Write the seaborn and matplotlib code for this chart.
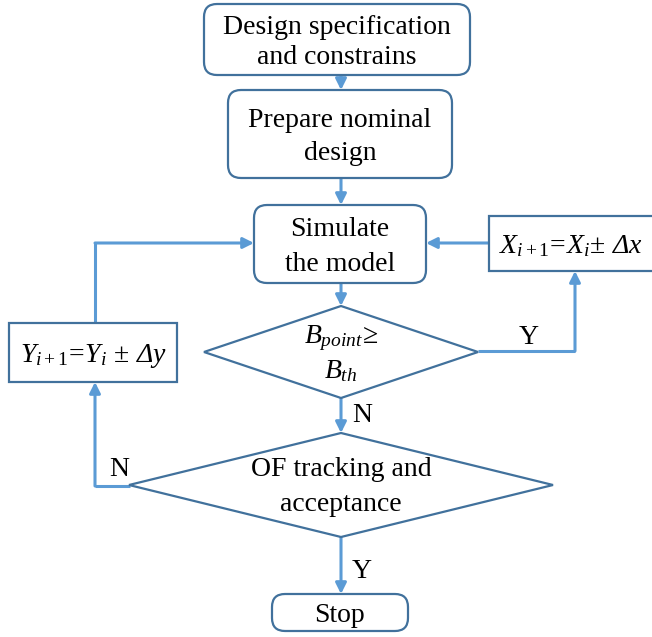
"""
Flowchart: nominal design -> simulate -> threshold checks -> stop
"""

import seaborn as sns
import matplotlib.pyplot as plt
from matplotlib.patches import FancyBboxPatch, Polygon, FancyArrowPatch

# -------------------------
# Content
# -------------------------
node_names = ["spec", "nominal", "simulate", "xstep", "ystep", "check_b", "check_of", "stop"]
node_texts = [
    "Design specification\nand constrains",
    "Prepare nominal\ndesign",
    "Simulate\nthe model",
    r"$X_{i+1}\!=\!X_i\!\pm\,\mathsf{Δ} x$",
    r"$Y_{i+1}\!=\!Y_i\,\pm\,\mathsf{Δ} y$",
    "$B_{point}\\!\\geq$\n$B_{th}$",
    "OF tracking and\nacceptance",
    "Stop",
]
edge_labels = ["Y", "N", "N", "Y"]

# -------------------------
# Layout (pixel space, y down)
# -------------------------
# rect boxes: x0, y0, x1, y1, rounded, line spacing
boxes = {
    "spec": (204, 4, 470, 75, True, 1.31),
    "nominal": (228, 90, 452, 178, True, 1.37),
    "simulate": (254, 205, 426, 283, True, 1.48),
    "xstep": (489, 216, 660, 271, False, 1.0),
    "ystep": (9, 323, 177, 382, False, 1.0),
    "stop": (272, 594, 408, 631, True, 1.0),
}
# diamonds: cx, cy, half width, half height, line spacing
diamonds = {
    "check_b": (341, 352, 137, 46, 1.25),
    "check_of": (341, 485, 212, 52, 1.5),
}

edge_col = "#41719C"
line_col = "#5B9BD5"
fs = 20

sns.set_theme(style="white")
plt.rcParams["font.family"] = ["Liberation Serif", "DejaVu Serif"]
plt.rcParams["mathtext.fontset"] = "custom"
plt.rcParams["mathtext.rm"] = "Liberation Serif"
plt.rcParams["mathtext.it"] = "Liberation Serif:italic"
plt.rcParams["mathtext.bf"] = "Liberation Serif:bold"
plt.rcParams["mathtext.sf"] = "Liberation Serif:italic"  # italic Delta

fig = plt.figure(figsize=(6.52, 6.37), dpi=100)
ax = fig.add_axes([0, 0, 1, 1])
ax.set_xlim(0, 652)
ax.set_ylim(637, 0)
ax.axis("off")

texts = dict(zip(node_names, node_texts))

for name, (x0, y0, x1, y1, rounded, ls) in boxes.items():
    style = "round,pad=0,rounding_size=13" if rounded else "square,pad=0"
    ax.add_patch(FancyBboxPatch((x0, y0), x1 - x0, y1 - y0, boxstyle=style,
                                fc="white", ec=edge_col, lw=1.6, zorder=2))
    cx = (x0 + min(x1, 652)) / 2
    ax.text(cx, (y0 + y1) / 2 + 3, texts[name], ha="center", va="center",
            fontsize=fs, linespacing=ls, color="black", zorder=3)

for name, (cx, cy, hw, hh, ls) in diamonds.items():
    pts = [(cx - hw, cy), (cx, cy - hh), (cx + hw, cy), (cx, cy + hh)]
    ax.add_patch(Polygon(pts, closed=True, fc="white", ec=edge_col, lw=1.6, zorder=2))
    ax.text(cx, cy + 2, texts[name], ha="center", va="center",
            fontsize=fs, linespacing=ls, color="black", zorder=3)


def route(points):
    # polyline, arrow head on the last segment
    xs = [p[0] for p in points]
    ys = [p[1] for p in points]
    if len(points) > 2:
        ax.plot(xs[:-1], ys[:-1], color=line_col, lw=2.2, solid_capstyle="butt", zorder=1)
    arrow = FancyArrowPatch(points[-2], points[-1], arrowstyle="-|>",
                            mutation_scale=16, color=line_col, lw=2.2,
                            shrinkA=0, shrinkB=0, zorder=1)
    ax.add_patch(arrow)


route([(341, 75), (341, 90)])
route([(341, 178), (341, 205)])
route([(341, 283), (341, 306)])
route([(489, 243), (426, 243)])
route([(95, 323), (95, 243), (254, 243)])
route([(478, 351), (575, 351), (575, 271)])
route([(341, 398), (341, 433)])
route([(130, 486), (95, 486), (95, 382)])
route([(341, 537), (341, 594)])

label_pos = [(529, 337), (362, 416), (119, 469), (362, 572)]
for lab, (lx, ly) in zip(edge_labels, label_pos):
    ax.text(lx, ly, lab, ha="center", va="center", fontsize=fs, color="black")

plt.savefig("out.png", dpi=100)
